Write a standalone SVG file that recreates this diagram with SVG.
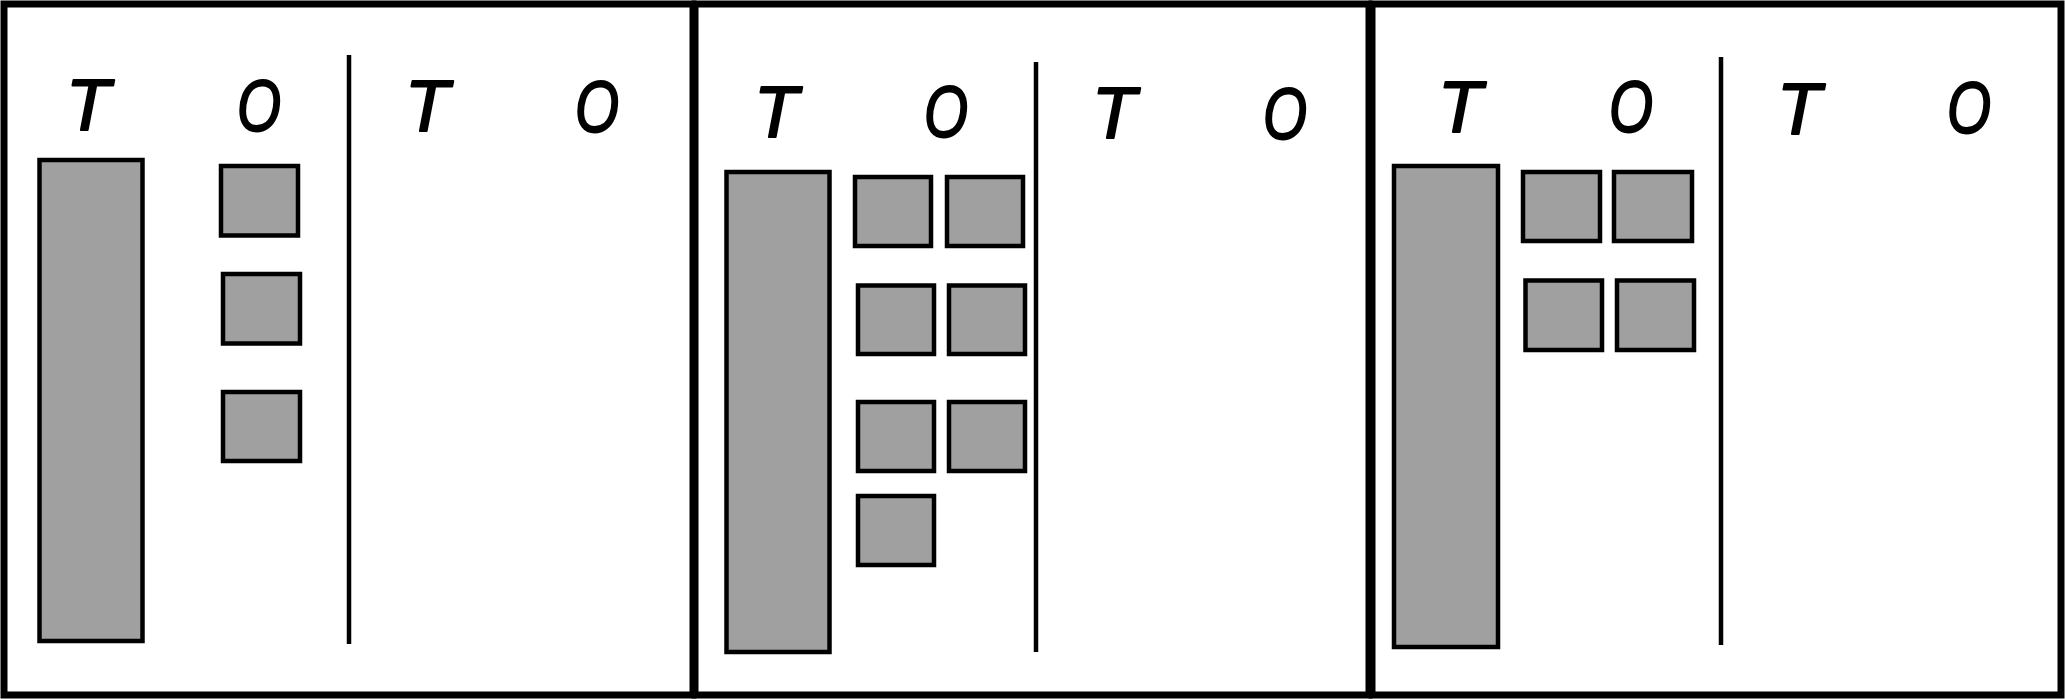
<svg xmlns="http://www.w3.org/2000/svg" width="2065" height="699" viewBox="0 0 2065 699">
<style>
.frame{fill:none;stroke:#000;stroke-width:7}
.blk{fill:#a0a0a0;stroke:#000;stroke-width:4.5}
.div{stroke:#000;stroke-width:4.5;fill:none}
.lbl{font-family:"Liberation Sans",Arial,sans-serif;font-style:italic;font-size:72px;fill:#000;stroke:#000;stroke-width:2;stroke-linejoin:round;text-anchor:middle}
</style>
<rect width="2065" height="699" fill="#fff"/>
<g id="panel1">
<rect class="frame" x="4" y="4" width="689" height="691"/>
<line class="div" x1="349" y1="55" x2="349" y2="644"/>
<text class="lbl" x="88" y="130">T</text>
<text class="lbl" x="259" y="131" textLength="44" lengthAdjust="spacingAndGlyphs">O</text>
<text class="lbl" x="427" y="131">T</text>
<text class="lbl" x="597" y="132" textLength="44" lengthAdjust="spacingAndGlyphs">O</text>
<rect id="p1-tens" class="blk" x="39.5" y="160" width="103" height="481"/>
<rect id="p1-one1" class="blk" x="221" y="166" width="77" height="69.5"/>
<rect id="p1-one2" class="blk" x="223" y="274" width="77" height="69.5"/>
<rect id="p1-one3" class="blk" x="223" y="392" width="77" height="69"/>
</g>
<g id="panel2">
<rect class="frame" x="695" y="4" width="674" height="691"/>
<line class="div" x1="1036" y1="62" x2="1036" y2="652"/>
<text class="lbl" x="776" y="137">T</text>
<text class="lbl" x="946" y="137" textLength="44" lengthAdjust="spacingAndGlyphs">O</text>
<text class="lbl" x="1114" y="138">T</text>
<text class="lbl" x="1285" y="139" textLength="44" lengthAdjust="spacingAndGlyphs">O</text>
<rect id="p2-tens" class="blk" x="726.5" y="172" width="103" height="480"/>
<rect class="blk" x="855" y="177" width="76" height="69"/>
<rect class="blk" x="947" y="177" width="76" height="69"/>
<rect class="blk" x="858" y="285.5" width="76" height="68.5"/>
<rect class="blk" x="949" y="285.5" width="76" height="68.5"/>
<rect class="blk" x="858" y="402" width="76" height="69"/>
<rect class="blk" x="949" y="402" width="76" height="69"/>
<rect class="blk" x="858" y="496" width="76" height="69"/>
</g>
<g id="panel3">
<rect class="frame" x="1372" y="4" width="689" height="691"/>
<line class="div" x1="1721" y1="57" x2="1721" y2="645"/>
<text class="lbl" x="1460" y="132">T</text>
<text class="lbl" x="1631" y="132" textLength="44" lengthAdjust="spacingAndGlyphs">O</text>
<text class="lbl" x="1799" y="134">T</text>
<text class="lbl" x="1969" y="133" textLength="44" lengthAdjust="spacingAndGlyphs">O</text>
<rect id="p3-tens" class="blk" x="1394" y="166" width="104" height="481"/>
<rect class="blk" x="1523" y="172" width="77" height="69"/>
<rect class="blk" x="1614" y="172" width="78" height="69"/>
<rect class="blk" x="1525.5" y="280.5" width="76.5" height="69.5"/>
<rect class="blk" x="1617" y="280.5" width="77" height="69.5"/>
</g>
<g id="connectors"/>
</svg>
